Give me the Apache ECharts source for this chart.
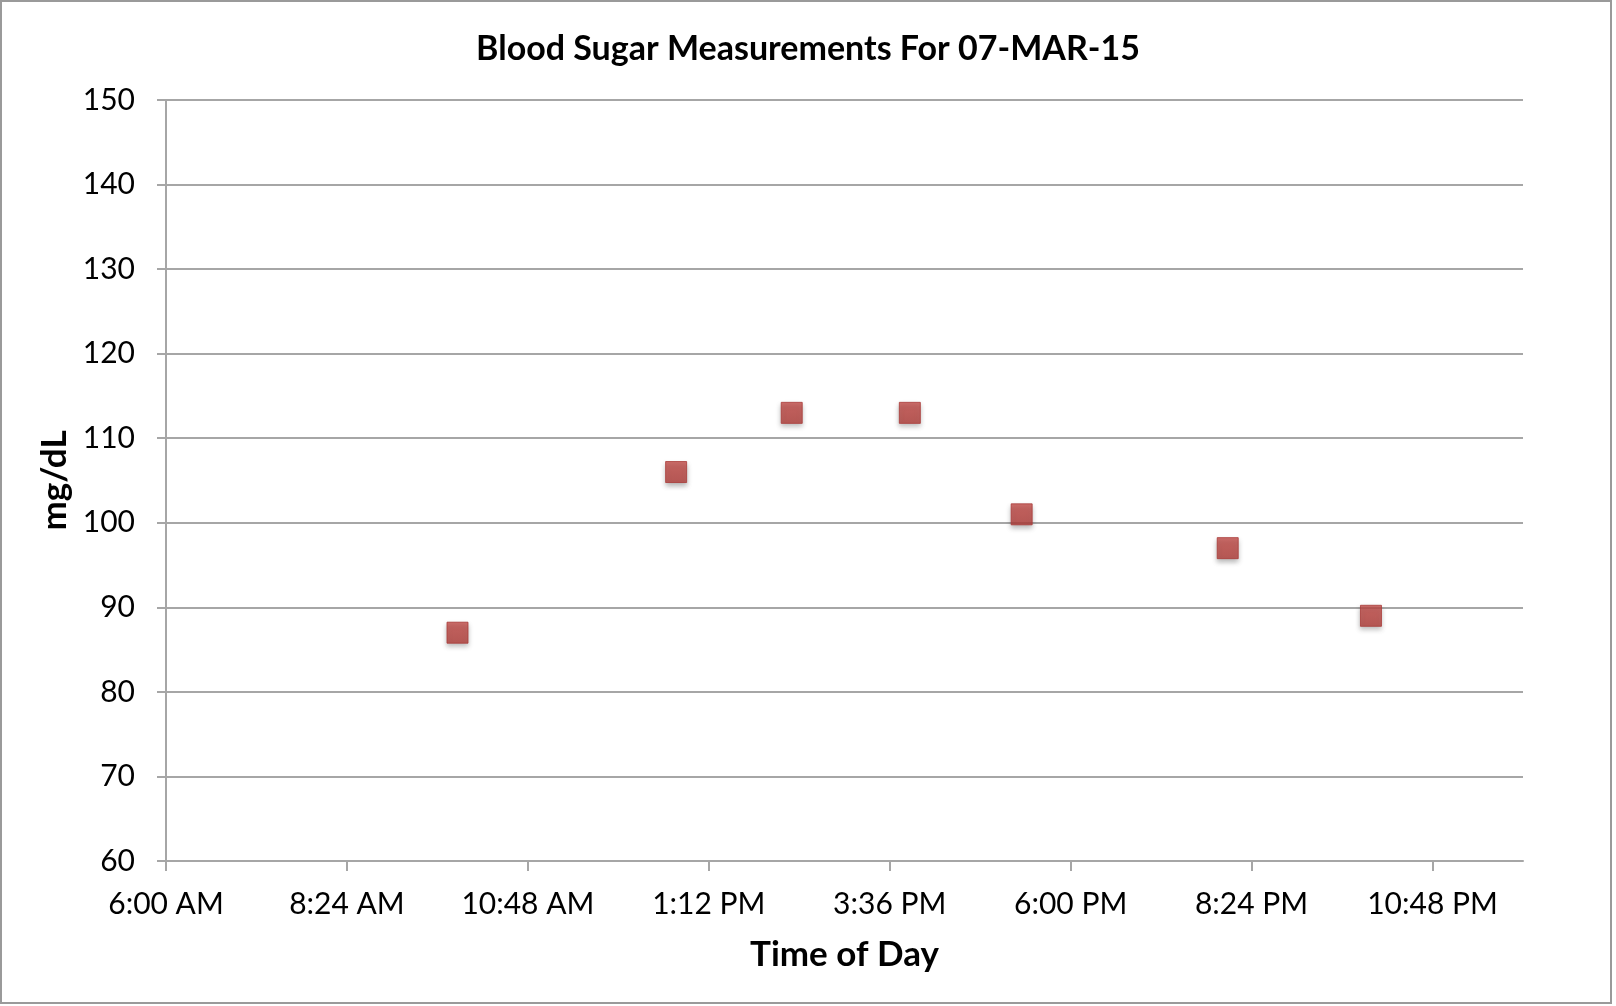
<!DOCTYPE html>
<html>
<head>
<meta charset="utf-8">
<script src="https://cdn.jsdelivr.net/npm/echarts@6/dist/echarts.min.js"></script>
<style>
  html, body { margin: 0; padding: 0; background: #fff; }
  #chart { width: 1616px; height: 1006px; }
</style>
</head>
<body>
<div id="chart"></div>
<script>
// Measurement times and blood sugar values (mg/dL)
const measurementTimes = ["9:52 AM", "12:46 PM", "2:18 PM", "3:52 PM", "5:21 PM", "8:05 PM", "9:59 PM"];
const sugarValues = [87, 106, 113, 113, 101, 97, 89];

const chartTitle = "Blood Sugar Measurements For 07-MAR-15";
const xAxisTitle = "Time of Day";
const yAxisTitle = "mg/dL";

// Axis: minutes after 6:00 AM, ticks every 2h24m (144 min), ending at midnight
const axisStartMinutes = 360;
const xMin = 0, xMax = 1080, xInterval = 144;
const yMin = 60, yMax = 150, yInterval = 10;

function parseTime(s) {
  const m = s.match(/(\d+):(\d+)\s*(AM|PM)/);
  let h = parseInt(m[1], 10) % 12;
  if (m[3] === "PM") h += 12;
  return h * 60 + parseInt(m[2], 10);
}
function formatTime(minOfDay) {
  minOfDay = Math.round(minOfDay) % 1440;
  let h = Math.floor(minOfDay / 60), mm = minOfDay % 60;
  const ap = h >= 12 ? "PM" : "AM";
  h = h % 12; if (h === 0) h = 12;
  return h + ":" + (mm < 10 ? "0" : "") + mm + " " + ap;
}

const seriesData = measurementTimes.map((t, i) => [parseTime(t) - axisStartMinutes, sugarValues[i]]);

const chart = echarts.init(document.getElementById('chart'));
const gray = '#a6a6a6';
chart.setOption({
  backgroundColor: '#ffffff',
  animation: false,
  title: {
    text: chartTitle,
    left: 'center',
    top: 27,
    textStyle: { fontFamily: 'Lato', fontWeight: 'bold', fontSize: 34, color: '#000' }
  },
  graphic: [{
    type: 'rect',
    shape: { x: 1, y: 1, width: 1610, height: 1002 },
    style: { fill: 'none', stroke: '#9a9a9a', lineWidth: 2 },
    silent: true
  }],
  grid: { left: 166, right: 93, top: 100, bottom: 145, containLabel: false },
  xAxis: {
    type: 'value',
    min: xMin, max: xMax, interval: xInterval,
    name: xAxisTitle,
    nameLocation: 'middle',
    nameGap: 76,
    nameTextStyle: { fontFamily: 'Lato', fontWeight: 'bold', fontSize: 35, color: '#000' },
    axisLine: { show: true, lineStyle: { color: gray, width: 2 } },
    axisTick: { show: true, inside: false, length: 10, lineStyle: { color: gray, width: 2 } },
    splitLine: { show: false },
    axisLabel: {
      fontFamily: 'Lato', fontSize: 30, color: '#000', margin: 28,
      showMaxLabel: false,
      formatter: v => formatTime(v + axisStartMinutes)
    }
  },
  yAxis: {
    type: 'value',
    min: yMin, max: yMax, interval: yInterval,
    name: yAxisTitle,
    nameLocation: 'middle',
    nameGap: 86,
    nameRotate: 90,
    nameTextStyle: { fontFamily: 'Lato', fontWeight: 'bold', fontSize: 35, color: '#000' },
    axisLine: { show: true, lineStyle: { color: gray, width: 2 } },
    axisTick: { show: true, inside: false, length: 9, lineStyle: { color: gray, width: 2 } },
    splitLine: { show: true, lineStyle: { color: gray, width: 2 } },
    axisLabel: { fontFamily: 'Lato', fontSize: 30, color: '#000', margin: 31 }
  },
  series: [{
    type: 'scatter',
    data: seriesData,
    symbol: 'rect',
    symbolSize: 21,
    itemStyle: {
      color: {
        type: 'linear', x: 0, y: 0, x2: 0, y2: 1,
        colorStops: [{ offset: 0, color: '#c64c48' }, { offset: 1, color: '#b33e3a' }]
      },
      borderColor: '#a93a37',
      borderWidth: 1,
      shadowColor: 'rgba(0,0,0,0.35)',
      shadowBlur: 5,
      shadowOffsetY: 3
    }
  }]
});
</script>
</body>
</html>
